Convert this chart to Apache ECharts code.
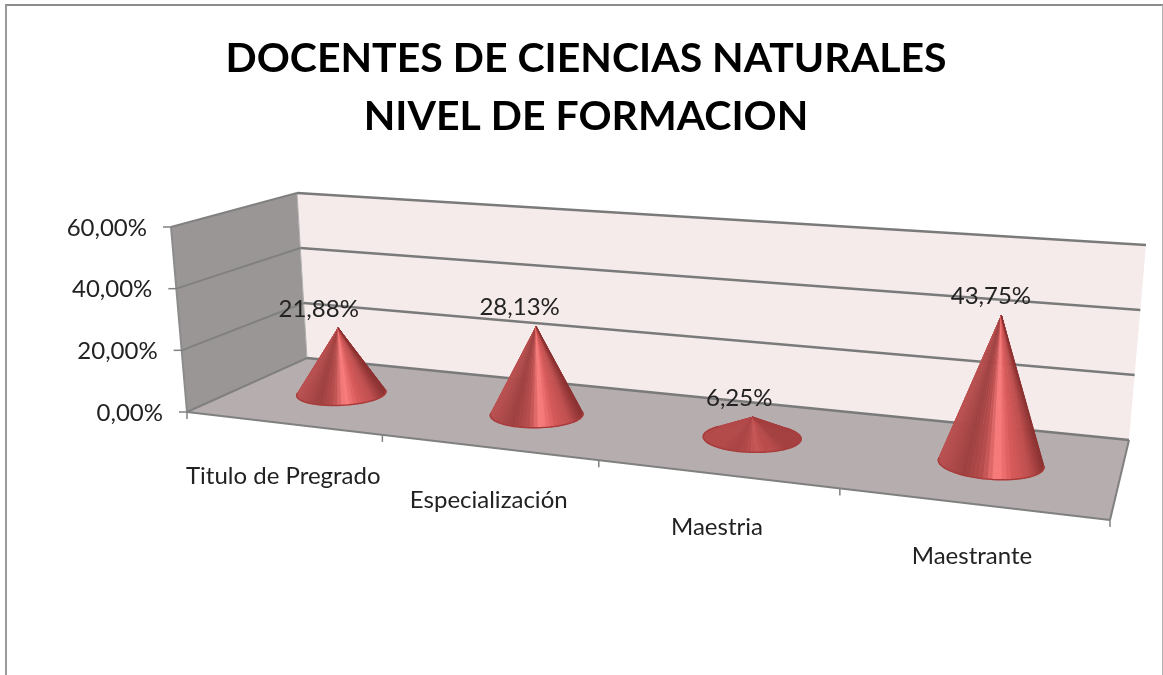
<!DOCTYPE html>
<html>
<head>
<meta charset="utf-8">
<title>Docentes de ciencias naturales</title>
<style>
html, body { margin: 0; padding: 0; background: #fff; }
#chart { width: 1163px; height: 675px; }
</style>
<script src="https://cdn.jsdelivr.net/npm/echarts@6/dist/echarts.min.js"></script>
</head>
<body>
<div id="chart"></div>
<script>
// data
const categories = ['Titulo de Pregrado', 'Especialización', 'Maestria', 'Maestrante'];
const percentValues = [21.88, 28.13, 6.25, 43.75];
const yTickValues = [0, 20, 40, 60];
const fontName = 'Lato';

// box corners on screen, order: front-left, front-right, back-right, back-left
const floorQuad = [[187, 412], [1110, 520], [1129, 440], [307, 358]];
const topQuad = [[171, 227], [1130, 302], [1146, 245], [297, 193]];

function makeHomography(q) {
  const dx1 = q[1][0] - q[2][0], dx2 = q[3][0] - q[2][0], sx = q[0][0] - q[1][0] + q[2][0] - q[3][0];
  const dy1 = q[1][1] - q[2][1], dy2 = q[3][1] - q[2][1], sy = q[0][1] - q[1][1] + q[2][1] - q[3][1];
  const det = dx1 * dy2 - dx2 * dy1;
  const g = (sx * dy2 - dx2 * sy) / det, h = (dx1 * sy - sx * dy1) / det;
  const a = q[1][0] - q[0][0] + g * q[1][0], b = q[3][0] - q[0][0] + h * q[3][0];
  const d = q[1][1] - q[0][1] + g * q[1][1], e = q[3][1] - q[0][1] + h * q[3][1];
  return (u, v) => {
    const w = g * u + h * v + 1;
    return [(a * u + b * v + q[0][0]) / w, (d * u + e * v + q[0][1]) / w];
  };
}
const floorAt = makeHomography(floorQuad);
const riseAt = floorQuad.map((p, i) => [topQuad[i][0] - p[0], topQuad[i][1] - p[1]]);

// u along the categories, v into the depth, t up the value axis (all 0..1)
function project(u, v, t) {
  const f = floorAt(u, v);
  return [0, 1].map(j => {
    const front = riseAt[0][j] + (riseAt[1][j] - riseAt[0][j]) * u;
    const back = riseAt[3][j] + (riseAt[2][j] - riseAt[3][j]) * u;
    return f[j] + (front + (back - front) * v) * t;
  });
}
function axisFractions(params, api, i, val) {
  const pt = api.coord([i, val]), cs = params.coordSys;
  return { u: (pt[0] - cs.x) / cs.width, t: (cs.y + cs.height - pt[1]) / cs.height };
}

function lineEl(a, b, color, width) {
  return { type: 'line', shape: { x1: a[0], y1: a[1], x2: b[0], y2: b[1] }, style: { stroke: color, lineWidth: width } };
}

function renderRoom() {
  const c = project;
  const planes = [
    { pts: [c(0, 0, 0), c(0, 1, 0), c(0, 1, 1), c(0, 0, 1)], fill: '#9b9696' },
    { pts: [c(0, 1, 0), c(1, 1, 0), c(1, 1, 1), c(0, 1, 1)], fill: '#f6ebeb' },
    { pts: [c(0, 0, 0), c(1, 0, 0), c(1, 1, 0), c(0, 1, 0)], fill: '#b6aeae' }
  ];
  const children = planes.map(p => ({ type: 'polygon', shape: { points: p.pts }, style: { fill: p.fill } }));
  children.push(lineEl(c(0, 0, 0), c(0, 0, 1), '#8c8c8c', 2));
  children.push(lineEl(c(0, 1, 0), c(0, 1, 1), '#b0b0b0', 1));
  children.push(lineEl(c(0, 0, 0), c(1, 0, 0), '#808080', 2));
  children.push(lineEl(c(1, 0, 0), c(1, 1, 0), '#808080', 2));
  children.push(lineEl(c(0, 0, 0), c(0, 1, 0), '#8c8686', 1));
  children.push(lineEl(c(0, 1, 0), c(1, 1, 0), '#8c8686', 1));
  // ticks of the category axis
  for (let i = 0; i <= categories.length; i++) {
    const p = c(i / categories.length, 0, 0);
    children.push(lineEl(p, [p[0], p[1] + 7], '#808080', 1.5));
  }
  return { type: 'group', children };
}

function renderGridLine(params, api) {
  const val = api.value(0);
  const t = axisFractions(params, api, 0, val).t;
  const a = project(0, 0, t), b = project(0, 1, t), d = project(1, 1, t);
  const children = [lineEl([a[0] - 8, a[1]], a, '#808080', 1.5)];
  children.push(lineEl(a, b, '#808080', 2));
  children.push(lineEl(b, d, '#7a7a7a', 2.4));
  children.push({
    type: 'text',
    style: {
      text: val.toFixed(2).replace('.', ',') + '%', x: a[0] - 24, y: a[1] + 1,
      align: 'right', verticalAlign: 'middle', fill: '#222', font: '24px ' + fontName
    }
  });
  return { type: 'group', children };
}

const shadeStops = [
  [0, [186, 80, 80]], [0.25, [158, 64, 64]], [0.42, [186, 78, 78]], [0.55, [255, 128, 128]],
  [0.7, [216, 90, 90]], [0.87, [190, 78, 78]], [1, [140, 48, 48]]
];
const flatShade = [176, 70, 70];
function shadeAt(s, k) {
  let i = 1;
  while (i < shadeStops.length - 1 && shadeStops[i][0] < s) i++;
  const a = shadeStops[i - 1], b = shadeStops[i];
  const r = Math.max(0, Math.min(1, (s - a[0]) / (b[0] - a[0])));
  const c = [0, 1, 2].map(j => {
    const v = a[1][j] + (b[1][j] - a[1][j]) * r;
    return Math.round(flatShade[j] + (v - flatShade[j]) * k);
  });
  return 'rgb(' + c.join(',') + ')';
}

function renderCone(params, api) {
  const idx = api.value(0), val = api.value(1);
  const f = axisFractions(params, api, idx, val);
  const v0 = 0.5, ru = 0.052, rv = 0.2, steps = 72;
  const tip = project(f.u, v0, f.t);
  const rim = [];
  for (let i = 0; i < steps; i++) {
    const a = i / steps * Math.PI * 2;
    rim.push(project(f.u + ru * Math.cos(a), v0 + rv * Math.sin(a), 0));
  }
  // tangent points seen from the tip, then walk the rim along the near side
  const ang = p => Math.atan2(p[0] - tip[0], p[1] - tip[1]);
  let iL = 0, iR = 0;
  rim.forEach((p, i) => {
    if (ang(p) < ang(rim[iL])) iL = i;
    if (ang(p) > ang(rim[iR])) iR = i;
  });
  const front = [];
  for (let i = iL; ; i = (i + 1) % steps) {
    front.push(rim[i]);
    if (i === iR) break;
  }
  const x0 = front[0][0], x1 = front[front.length - 1][0];
  const k = Math.min(1, val / 20);
  const children = [];
  for (let i = 0; i < front.length - 1; i++) {
    const s = ((front[i][0] + front[i + 1][0]) / 2 - x0) / (x1 - x0);
    const col = shadeAt(s, k);
    children.push({
      type: 'polygon',
      shape: { points: [tip, front[i], front[i + 1]] },
      style: { fill: col, stroke: col, lineWidth: 0.7 }
    });
  }
  children.push({ type: 'polyline', shape: { points: front }, style: { fill: 'none', stroke: '#a83c3c', lineWidth: 1.5 } });
  return { type: 'group', children };
}

function renderValueLabel(params, api) {
  const idx = api.value(0), val = api.value(1);
  const f = axisFractions(params, api, idx, val);
  const tip = project(f.u, 0.5, f.t);
  return {
    type: 'text',
    style: {
      text: val.toFixed(2).replace('.', ',') + '%', x: tip[0] - 21 + 12 * f.u, y: tip[1] - 19,
      align: 'center', verticalAlign: 'middle', fill: '#222', font: '24px ' + fontName
    }
  };
}

function renderCategoryLabel(params, api) {
  const idx = api.value(0);
  const f = axisFractions(params, api, idx, 0);
  const p = project(f.u, 0, 0);
  return {
    type: 'text',
    style: {
      text: categories[idx], x: p[0] + 1, y: p[1] + 53,
      align: 'center', verticalAlign: 'middle', fill: '#222', font: '24px ' + fontName
    }
  };
}

const coneData = percentValues.map((v, i) => [i, v]);
const chart = echarts.init(document.getElementById('chart'), null, { renderer: 'canvas' });
chart.setOption({
  animation: false,
  backgroundColor: '#fff',
  title: {
    text: 'DOCENTES DE CIENCIAS NATURALES\nNIVEL DE FORMACION',
    left: 581, top: 25, textAlign: 'center',
    textStyle: { fontFamily: fontName, fontWeight: 'bold', fontSize: 41, lineHeight: 58, color: '#000' }
  },
  grid: { left: 187, top: 227, width: 923, height: 185 },
  xAxis: { type: 'category', data: categories, show: false },
  yAxis: { type: 'value', min: 0, max: 60, interval: 20, show: false },
  graphic: [
    { type: 'line', z: 100, shape: { x1: 5, y1: 5, x2: 1163, y2: 5 }, style: { stroke: '#8c8c8c', lineWidth: 2 } },
    { type: 'line', z: 100, shape: { x1: 6, y1: 5, x2: 6, y2: 675 }, style: { stroke: '#9a9a9a', lineWidth: 2 } },
    { type: 'line', z: 100, shape: { x1: 1162.5, y1: 5, x2: 1162.5, y2: 675 }, style: { stroke: '#b0b0b0', lineWidth: 1 } }
  ],
  series: [
    { type: 'custom', z: 1, clip: false, silent: true, data: [[0, 0]], renderItem: renderRoom },
    { type: 'custom', z: 2, clip: false, silent: true, data: yTickValues.map(v => [v]), encode: { y: 0 }, renderItem: renderGridLine },
    { type: 'custom', z: 3, clip: false, silent: true, data: coneData, encode: { x: 0, y: 1 }, renderItem: renderCone },
    { type: 'custom', z: 4, clip: false, silent: true, data: coneData, encode: { x: 0, y: 1 }, renderItem: renderValueLabel },
    { type: 'custom', z: 4, clip: false, silent: true, data: coneData, encode: { x: 0, y: 1 }, renderItem: renderCategoryLabel }
  ]
});
</script>
</body>
</html>
